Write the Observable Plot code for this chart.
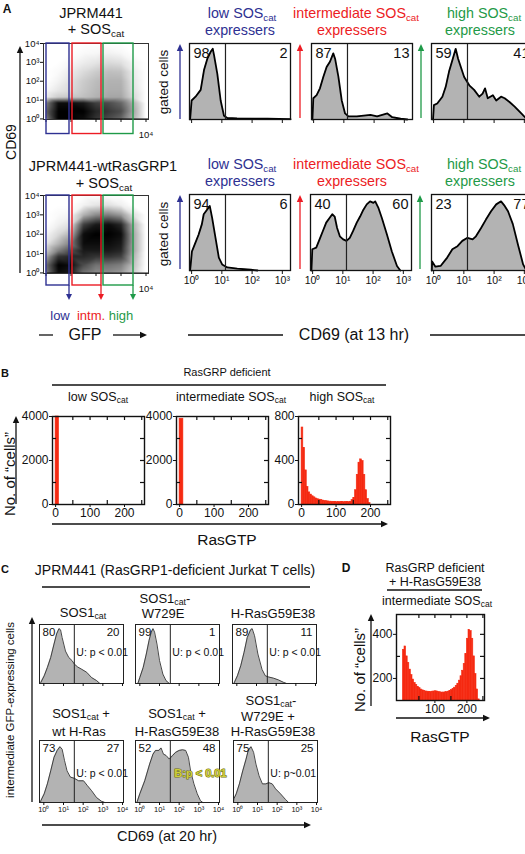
<!DOCTYPE html>
<html><head><meta charset="utf-8">
<script src="https://cdn.jsdelivr.net/npm/d3@7"></script>
<script src="https://cdn.jsdelivr.net/npm/@observablehq/plot@0.6"></script>
<style>
html,body{margin:0;padding:0;background:#fff;}
#root{position:relative;width:525px;height:854px;overflow:hidden;font-family:"Liberation Sans",Arial,Helvetica,sans-serif;color:#111;}
.t{position:absolute;white-space:nowrap;line-height:1;}
.t sub{font-size:0.68em;vertical-align:-0.3em;line-height:0;}
</style></head><body><div id="root"></div>
<script>
// ---------------- DATA ----------------
// Panel A: GFP gates (log10 GFP)
const gfpGates = [{gate:"low", x1:0.02, x2:0.94}, {gate:"intm.", x1:1.06, x2:2.22}, {gate:"high", x1:2.3, x2:3.5}];
// Estimated dot density grid (log10 GFP x log10 CD69)
const gridX = [0, 0.5, 1, 1.5, 2, 2.5, 3, 3.5, 4];
const gridY = [0, 0.4, 0.85, 1.15, 1.5, 2, 2.5, 3, 3.5, 4];
const densJPRM = [
  [0.5, 1, 1, 0.95, 0.8, 0.7, 0.6, 0.3, 0],
  [0.6, 1, 1, 1, 0.85, 0.78, 0.7, 0.35, 0],
  [0.5, 0.95, 0.95, 0.9, 0.75, 0.7, 0.6, 0.3, 0],
  [0.08, 0.2, 0.22, 0.25, 0.3, 0.35, 0.35, 0.15, 0],
  [0.03, 0.1, 0.15, 0.22, 0.28, 0.32, 0.32, 0.12, 0],
  [0, 0.05, 0.12, 0.2, 0.26, 0.3, 0.3, 0.1, 0],
  [0, 0.02, 0.08, 0.14, 0.2, 0.25, 0.24, 0.08, 0],
  [0, 0, 0.03, 0.07, 0.1, 0.14, 0.12, 0.04, 0],
  [0, 0, 0, 0.02, 0.03, 0.05, 0.03, 0, 0],
  [0, 0, 0, 0, 0, 0, 0, 0, 0]];
const densWt = [
  [0.5, 0.95, 0.9, 0.55, 0.45, 0.45, 0.4, 0.2, 0],
  [0.55, 1, 0.95, 0.7, 0.55, 0.55, 0.5, 0.25, 0],
  [0.35, 0.8, 0.85, 0.85, 0.8, 0.8, 0.75, 0.3, 0],
  [0.2, 0.5, 0.7, 0.9, 0.9, 0.9, 0.85, 0.35, 0],
  [0.1, 0.3, 0.5, 0.95, 0.95, 0.95, 0.9, 0.35, 0],
  [0.04, 0.15, 0.3, 0.95, 1, 1, 0.95, 0.35, 0],
  [0, 0.06, 0.12, 0.75, 0.9, 0.95, 0.85, 0.3, 0],
  [0, 0.02, 0.04, 0.3, 0.45, 0.5, 0.4, 0.12, 0],
  [0, 0, 0, 0.05, 0.1, 0.12, 0.06, 0, 0],
  [0, 0, 0, 0, 0, 0, 0, 0, 0]];
// Panel A histograms: [log10 CD69, relative count]
const aLow1 = [[-0.05,0],[0,0.25],[0.13,0.30],[0.30,0.39],[0.41,0.65],[0.52,0.80],[0.63,0.89],[0.70,0.93],[0.74,0.85],[0.85,0.6],[0.96,0.25],[1.07,0.05],[1.18,0.02],[1.5,0.015],[2.5,0.01],[3.27,0.005]];
const aInt1 = [[-0.04,0],[-0.01,0.28],[0.10,0.32],[0.21,0.41],[0.32,0.56],[0.43,0.69],[0.54,0.76],[0.65,0.87],[0.71,0.8],[0.82,0.56],[0.93,0.25],[1.04,0.08],[1.15,0.04],[1.43,0.04],[1.88,0.06],[2.10,0.04],[2.44,0.08],[2.60,0.03],[2.88,0.01],[3.10,0]];
const aHigh1 = [[-0.02,0],[0.01,0.19],[0.12,0.21],[0.29,0.30],[0.40,0.43],[0.51,0.63],[0.62,0.78],[0.73,0.93],[0.81,0.8],[0.90,0.69],[1.01,0.56],[1.18,0.45],[1.34,0.39],[1.51,0.30],[1.62,0.34],[1.70,0.41],[1.79,0.28],[1.96,0.32],[2.07,0.25],[2.23,0.30],[2.35,0.28],[2.51,0.23],[2.68,0.17],[2.90,0.08],[3.07,0.01],[3.2,0]];
const aLow2 = [[-0.05,0],[-0.03,0.08],[0.01,0.25],[0.12,0.36],[0.23,0.47],[0.34,0.61],[0.40,0.74],[0.51,0.80],[0.60,0.85],[0.68,0.69],[0.79,0.43],[0.90,0.17],[1.01,0.08],[1.18,0.04],[1.51,0.025],[1.96,0.01],[2.18,0]];
const aInt2 = [[-0.04,0],[-0.01,0.28],[0.12,0.30],[0.23,0.41],[0.34,0.52],[0.45,0.63],[0.56,0.69],[0.65,0.74],[0.73,0.71],[0.81,0.56],[0.90,0.45],[1.01,0.41],[1.12,0.39],[1.23,0.43],[1.34,0.52],[1.46,0.63],[1.57,0.71],[1.68,0.80],[1.79,0.87],[1.90,0.91],[2.01,0.89],[2.07,0.91],[2.18,0.82],[2.29,0.69],[2.46,0.47],[2.62,0.25],[2.79,0.06],[2.90,0]];
const aHigh2 = [[-0.06,0],[-0.05,0.12],[0.06,0.05],[0.23,0.06],[0.45,0.17],[0.62,0.28],[0.79,0.32],[0.95,0.39],[1.12,0.43],[1.29,0.41],[1.40,0.45],[1.57,0.56],[1.73,0.67],[1.90,0.78],[2.07,0.87],[2.23,0.91],[2.35,0.85],[2.46,0.78],[2.62,0.61],[2.79,0.34],[2.96,0.08],[3.07,0]];
const aPct = [[98,2],[87,13],[59,41],[94,6],[40,60],[23,77]];
const aGate = 1.12;
const aTicks = [0,1,2,3];
// Panel B: RasGTP histograms
const bLowBars = [{x1:0, x2:10, n:4000}];
const bIntBars = [{x1:0, x2:11, n:3900}];
const bHighCounts = [700,515,310,160,110,90,75,65,55,48,44,40,36,33,30,28,26,25,24,23,22,22,21,21,21,22,22,23,25,40,60,130,270,380,410,395,270,130,50,12];
const bXTicks = [0,100,200];
const bYTicks4000 = [0,2000,4000];
const bYTicks800 = [0,400,800];
// Panel C
const c1 = [[-0.17,0],[-0.15,0.02],[0.02,0.13],[0.18,0.27],[0.35,0.44],[0.52,0.67],[0.65,0.84],[0.77,0.93],[0.85,0.91],[0.93,0.78],[1.1,0.55],[1.27,0.44],[1.43,0.39],[1.55,0.33],[1.72,0.28],[1.93,0.24],[2.18,0.19],[2.43,0.10],[2.68,0.05],[2.85,0]];
const c2 = [[-0.1,0],[0,0.1],[0.17,0.27],[0.33,0.5],[0.47,0.73],[0.58,0.87],[0.67,0.93],[0.75,0.87],[0.87,0.67],[1.0,0.39],[1.17,0.16],[1.33,0.05],[1.5,0]];
const c3 = [[-0.15,0],[0.03,0.13],[0.2,0.3],[0.37,0.53],[0.53,0.78],[0.7,0.91],[0.78,0.93],[0.9,0.81],[1.07,0.5],[1.28,0.24],[1.45,0.13],[1.62,0.11],[1.87,0.09],[2.12,0.06],[2.37,0.02],[2.53,0]];
const c4 = [[-0.17,0],[-0.15,0.03],[0.02,0.14],[0.18,0.3],[0.35,0.51],[0.52,0.73],[0.68,0.84],[0.82,0.9],[0.93,0.86],[1.05,0.68],[1.18,0.51],[1.35,0.41],[1.55,0.39],[1.77,0.35],[2.02,0.35],[2.22,0.27],[2.43,0.19],[2.68,0.08],[2.93,0.02],[3.1,0]];
const c5 = [[-0.15,0],[0.0,0.14],[0.25,0.35],[0.5,0.62],[0.67,0.78],[0.8,0.84],[0.97,0.84],[1.08,0.88],[1.2,0.78],[1.33,0.76],[1.5,0.7],[1.67,0.76],[1.83,0.81],[2.0,0.84],[2.17,0.85],[2.33,0.84],[2.47,0.73],[2.58,0.51],[2.75,0.3],[2.92,0.14],[3.08,0.03],[3.2,0]];
const c6 = [[-0.22,0],[-0.2,0.06],[-0.08,0.14],[0.08,0.3],[0.25,0.51],[0.42,0.7],[0.53,0.84],[0.67,0.9],[0.8,0.81],[0.92,0.62],[1.08,0.43],[1.25,0.3],[1.42,0.3],[1.58,0.32],[1.75,0.3],[1.92,0.22],[2.17,0.14],[2.42,0.05],[2.58,0]];
const cPct = [[80,20],[99,1],[89,11],[73,27],[52,48],[75,25]];
const cStats = ["U: p < 0.01","U: p < 0.01","U: p < 0.01","U: p < 0.01","B:p < 0.01","U: p~0.01"];
const cGate = 1.55;
const cTicks = [0,1,2,3,4];
// Panel D
const dCounts = [330,345,300,270,240,215,195,180,170,162,156,150,146,143,141,140,139,139,140,141,142,141,139,137,136,136,137,138,140,143,147,152,158,166,176,190,210,235,265,310,380,420,415,380,300,220,150,105];
const dXTicks = [100,200];
const dYTicks = [200,400];

// ---------------- HELPERS ----------------
const FONT = '"Liberation Sans", Arial, Helvetica, sans-serif';
const BLUE="#2e3192", RED="#ec1c24", GREEN="#1f9a48", BARRED="#f52a12", HGRAY="#b3b3b3";
const gateColors = [BLUE, RED, GREEN];
const root = document.getElementById("root");
const SUP = "⁰¹²³⁴";
const sup = d => "10" + SUP[d];

function T(html, cx, cy, o = {}) {
  const el = document.createElement("div");
  el.className = "t";
  el.innerHTML = html;
  el.style.left = cx + "px";
  el.style.top = cy + "px";
  el.style.fontSize = (o.size || 13) + "px";
  el.style.color = o.color || "#111";
  if (o.weight) el.style.fontWeight = o.weight;
  el.style.transform = "translate(-50%,-50%)" + (o.rot ? ` rotate(${o.rot}deg)` : "");
  root.appendChild(el);
}
function P(L, Tp, W, H, m, opts) {
  const [mt, mr, mb, ml] = m;
  const svg = Plot.plot({
    width: W + ml + mr, height: H + mt + mb,
    marginTop: mt, marginRight: mr, marginBottom: mb, marginLeft: ml,
    style: {background: "none", overflow: "visible", fontFamily: FONT, color: "#111"},
    ...opts
  });
  svg.style.position = "absolute";
  svg.style.left = (L - ml) + "px";
  svg.style.top = (Tp - mt) + "px";
  svg.style.maxWidth = "none";
  root.appendChild(svg);
  return svg;
}

// ---------------- PANEL A ----------------
function scatter(dens, L, Tp, H, gateBottom) {
  const pts = gridY.flatMap((y, j) => gridX.map((x, i) => ({x, y, d: dens[j][i]})));
  P(L, Tp, 105, H, [4, 8, 22, 26], {
    x: {domain: [-0.1, 4.1], axis: null},
    y: {domain: [-0.03, 4], axis: null},
    color: {type: "linear", domain: [0, 1], range: ["#ffffff", "#000000"], clamp: true},
    marks: [
      Plot.raster(pts, {x: "x", y: "y", fill: "d", interpolate: "barycentric"}),
      Plot.frame({stroke: "#333", strokeWidth: 1}),
      Plot.axisY({ticks: [0,1,2,3,4], tickFormat: sup, tickSize: 3, tickPadding: 1, fontSize: 9.5, label: null}),
      Plot.axisX({ticks: [0,1,2,3,4], tickFormat: d => d === 4 ? sup(4) : "", tickSize: 3, tickPadding: 9, fontSize: 9.5, label: null}),
      ...gfpGates.map((g, i) => Plot.rect([g], {x1: "x1", x2: "x2", y1: () => gateBottom, y2: () => 4, stroke: gateColors[i], strokeWidth: 1.4, fill: "none"}))
    ]
  });
}
scatter(densJPRM, 43, 43, 76, -0.8);
scatter(densWt, 43, 195, 78, -0.65);

function histA(data, L, Tp, pct, labels) {
  P(L, Tp, 101, 76, [2, 4, 18, 4], {
    x: {domain: [-0.07, 3.27], axis: null},
    y: {domain: [0, 1], axis: null},
    marks: [
      Plot.areaY(data, {x: d => d[0], y: d => d[1], fill: HGRAY}),
      Plot.lineY(data, {x: d => d[0], y: d => d[1], stroke: "#000", strokeWidth: 1.8}),
      Plot.ruleX([aGate], {stroke: "#222", strokeWidth: 1.2}),
      Plot.frame({stroke: "#111", strokeWidth: 1.3}),
      Plot.axisX({ticks: aTicks, tickSize: 4, tickPadding: 2, tickFormat: labels ? sup : () => "", fontSize: 10.5, label: null}),
      Plot.text([pct[0]], {text: d => d, frameAnchor: "top-left", textAnchor: "start", lineAnchor: "top", dx: 4, dy: 4, fontSize: 14.5}),
      Plot.text([pct[1]], {text: d => d, frameAnchor: "top-right", textAnchor: "end", lineAnchor: "top", dx: -3, dy: 4, fontSize: 14.5})
    ]
  });
}
histA(aLow1, 189, 43, aPct[0], false);
histA(aInt1, 311, 43, aPct[1], false);
histA(aHigh1, 431, 43, aPct[2], false);
histA(aLow2, 189, 194, aPct[3], true);
histA(aInt2, 310, 194, aPct[4], true);
histA(aHigh2, 431, 194, aPct[5], true);

T("A", 7, 9, {size: 12, weight: "bold"});
T("JPRM441", 91, 13, {size: 14.5});
T("+ SOS<sub>cat</sub>", 96, 29, {size: 14.5});
T("JPRM441-wtRasGRP1", 103, 166, {size: 14.5});
T("+ SOS<sub>cat</sub>", 104, 183, {size: 14.5});
T("CD69", 11, 142, {size: 14, rot: -90});
T("gated cells", 164, 82, {size: 13.5, rot: -90});
T("gated cells", 164, 234, {size: 13.5, rot: -90});
for (const [y1, y2] of [[13, 30], [164, 181]]) {
  T("low SOS<sub>cat</sub>", 242, y1, {size: 14.3, color: BLUE});
  T("expressers", 240, y2, {size: 14.3, color: BLUE});
  T("intermediate SOS<sub>cat</sub>", 356, y1, {size: 14.3, color: RED});
  T("expressers", 352, y2, {size: 14.3, color: RED});
  T("high SOS<sub>cat</sub>", 484, y1, {size: 14.3, color: GREEN});
  T("expressers", 480, y2, {size: 14.3, color: GREEN});
}
T("low", 60, 315, {size: 13, color: BLUE});
T("intm.", 91, 315, {size: 13, color: RED});
T("high", 121, 315, {size: 13, color: GREEN});
T("GFP", 85, 335, {size: 16});
T("CD69 (at 13 hr)", 354, 335, {size: 16});

// ---------------- PANEL B ----------------
const bHighBars = bHighCounts.map((n, i) => ({x1: i * 5, x2: i * 5 + 5, n}));
function histB(bars, L, yTicks) {
  const W = 92, H = 88, yMax = yTicks[2];
  P(L, 416, W, H, [4, 4, 18, 30], {
    x: {domain: [-9, 258], axis: null},
    y: {domain: [0, yMax], axis: null},
    marks: [
      Plot.rectY(bars, {x1: "x1", x2: "x2", y: "n", fill: BARRED, stroke: BARRED, strokeWidth: 0.6}),
      Plot.ruleX([50, 100, 150, 200, 250], {insetBottom: H - 4, stroke: "#111", strokeWidth: 1.2}),
      Plot.ruleX([50, 150, 250], {insetTop: H - 4, stroke: "#111", strokeWidth: 1.2}),
      Plot.ruleY([yMax / 4, yMax / 2, 3 * yMax / 4], {insetLeft: W - 4, stroke: "#111", strokeWidth: 1.2}),
      Plot.ruleY([yMax / 4, 3 * yMax / 4], {insetRight: W - 4, stroke: "#111", strokeWidth: 1.2}),
      Plot.frame({stroke: "#111", strokeWidth: 1.4}),
      Plot.axisX({ticks: bXTicks, tickSize: 3, tickPadding: 1, fontSize: 12, label: null, tickFormat: d => String(d)}),
      Plot.axisY({ticks: yTicks, tickSize: 3, tickPadding: 1, fontSize: 12, label: null, tickFormat: d => String(d)})
    ]
  });
}
histB(bLowBars, 52, bYTicks4000);
histB(bIntBars, 176, bYTicks4000);
histB(bHighBars, 298, bYTicks800);
T("B", 5, 373, {size: 11, weight: "bold"});
T("RasGRP deficient", 227, 372, {size: 11});
T("low SOS<sub>cat</sub>", 98, 397, {size: 12.5});
T("intermediate SOS<sub>cat</sub>", 231, 397, {size: 12.5});
T("high SOS<sub>cat</sub>", 342, 397, {size: 12.5});
T("No. of “cells”", 9, 474, {size: 15, rot: -90});
T("RasGTP", 227, 540, {size: 15.5});

// ---------------- PANEL C ----------------
function histC(data, L, Tp, H, pct, stat, labels, statDy, special) {
  const statOpts = special
    ? {fill: "#cfcf3c", stroke: "#6d6d14", strokeWidth: 1.1, paintOrder: "stroke", fontWeight: "bold", fontSize: 11}
    : {fill: "#111", fontSize: 10.5};
  P(L, Tp, 84, H, [2, 10, 16, 4], {
    x: {domain: [-0.22, 4.05], axis: null},
    y: {domain: [0, 1], axis: null},
    marks: [
      Plot.areaY(data, {x: d => d[0], y: d => d[1], fill: HGRAY}),
      Plot.lineY(data, {x: d => d[0], y: d => d[1], stroke: "#333", strokeWidth: 0.9}),
      Plot.ruleX([cGate], {stroke: "#222", strokeWidth: 1}),
      Plot.frame({stroke: "#222", strokeWidth: 1}),
      Plot.axisX({ticks: cTicks, tickSize: 3, tickPadding: 1, tickFormat: labels ? sup : () => "", fontSize: 7.5, label: null}),
      Plot.text([pct[0]], {text: d => d, frameAnchor: "top-left", textAnchor: "start", lineAnchor: "top", dx: 3, dy: 3, fontSize: 11.5}),
      Plot.text([pct[1]], {text: d => d, frameAnchor: "top-right", textAnchor: "end", lineAnchor: "top", dx: -4, dy: 3, fontSize: 11.5}),
      Plot.text([stat], {text: d => d, x: () => cGate, frameAnchor: "top", textAnchor: "start", dx: special ? 4 : 2, dy: statDy, ...statOpts})
    ]
  });
}
histC(c1, 39, 624, 59, cPct[0], cStats[0], false, 24, false);
histC(c2, 135, 624, 59, cPct[1], cStats[1], false, 24, false);
histC(c3, 232, 624, 59, cPct[2], cStats[2], false, 24, false);
histC(c4, 39, 740, 62, cPct[3], cStats[3], true, 29, false);
histC(c5, 135, 740, 62, cPct[4], cStats[4], true, 29, true);
histC(c6, 233, 740, 62, cPct[5], cStats[5], true, 29, false);
T("C", 5, 569, {size: 11, weight: "bold"});
T("JPRM441 (RasGRP1-deficient Jurkat T cells)", 175, 570, {size: 14});
T("SOS1<sub>cat</sub>", 83, 612, {size: 13});
T("SOS1<sub>cat</sub>-", 165, 598, {size: 13});
T("W729E", 163, 613, {size: 13});
T("H-RasG59E38", 273, 613, {size: 13});
T("SOS1<sub>cat</sub> +", 81, 713, {size: 13});
T("wt H-Ras", 79, 731, {size: 13});
T("SOS1<sub>cat</sub> +", 177, 713, {size: 13});
T("H-RasG59E38", 177, 731, {size: 13});
T("SOS1<sub>cat</sub>-", 271, 700, {size: 13});
T("W729E +", 268, 716, {size: 13});
T("H-RasG59E38", 273, 731, {size: 13});
T("intermediate GFP-expressing cells", 11, 710, {size: 11.5, rot: -90});
T("CD69 (at 20 hr)", 167, 836, {size: 14.5});

// ---------------- PANEL D ----------------
const dBars = dCounts.map((n, i) => ({x1: i * 5, x2: i * 5 + 5, n}));
{
  const W = 88, H = 86;
  P(396, 614, W, H, [4, 4, 18, 30], {
    x: {domain: [-20, 255], axis: null},
    y: {domain: [100, 490], axis: null},
    marks: [
      Plot.rectY(dBars, {x1: "x1", x2: "x2", y: "n", fill: BARRED, stroke: BARRED, strokeWidth: 0.6, clip: true}),
      Plot.ruleX([50, 100, 150, 200, 250], {insetBottom: H - 4, stroke: "#111", strokeWidth: 1.2}),
      Plot.ruleX([50, 150, 250], {insetTop: H - 4, stroke: "#111", strokeWidth: 1.2}),
      Plot.ruleY([200, 300, 400], {insetLeft: W - 4, stroke: "#111", strokeWidth: 1.2}),
      Plot.ruleY([300], {insetRight: W - 4, stroke: "#111", strokeWidth: 1.2}),
      Plot.frame({stroke: "#111", strokeWidth: 1.4}),
      Plot.axisX({ticks: dXTicks, tickSize: 3, tickPadding: 1, fontSize: 12, label: null, tickFormat: d => String(d)}),
      Plot.axisY({ticks: dYTicks, tickSize: 3, tickPadding: 1, fontSize: 12, label: null, tickFormat: d => String(d)})
    ]
  });
}
T("D", 346, 568, {size: 12, weight: "bold"});
T("RasGRP deficient", 435, 568, {size: 12.5});
T("+ H-RasG59E38", 435, 582, {size: 12.5});
T("intermediate SOS<sub>cat</sub>", 437, 601, {size: 12.5});
T("No. of “cells”", 359, 670, {size: 15, rot: -90});
T("RasGTP", 440, 737, {size: 15.5});

// ---------------- DECORATIVE LINES / ARROWS ----------------
const ov = d3.select(root).append("svg").attr("width", 525).attr("height", 854)
  .style("position", "absolute").style("left", "0px").style("top", "0px").style("pointer-events", "none");
function line(x1, y1, x2, y2, c = "#111", w = 1.3) {
  ov.append("line").attr("x1", x1).attr("y1", y1).attr("x2", x2).attr("y2", y2).attr("stroke", c).attr("stroke-width", w);
}
function arrow(x1, y1, x2, y2, c = "#111", w = 1.3, hl = 7, hw = 3.2) {
  const dx = x2 - x1, dy = y2 - y1, len = Math.hypot(dx, dy), ux = dx / len, uy = dy / len;
  const bx = x2 - ux * hl, by = y2 - uy * hl;
  line(x1, y1, bx, by, c, w);
  ov.append("path").attr("d", `M${x2},${y2}L${bx - uy * hw},${by + ux * hw}L${bx + uy * hw},${by - ux * hw}Z`).attr("fill", c);
}
// Panel A
arrow(20, 273, 20, 46);
arrow(180, 119, 180, 44, BLUE); arrow(300, 118, 300, 44, RED); arrow(421, 118, 421, 44, GREEN);
arrow(180, 269, 180, 195, BLUE); arrow(300, 269, 300, 195, RED); arrow(420, 269, 420, 195, GREEN);
arrow(69, 285, 69, 300, BLUE, 1.3, 6, 3); arrow(101, 285, 101, 300, RED, 1.3, 6, 3); arrow(133, 285, 133, 300, GREEN, 1.3, 6, 3);
line(39, 335, 53, 335);
arrow(113, 335, 147, 335);
line(188, 335, 283, 335);
arrow(430, 335, 545, 335);
// Panel B
line(52, 385, 386, 385);
arrow(16, 504, 16, 416);
arrow(52, 524, 388, 524);
// Panel C
line(42, 587, 310, 587);
arrow(32, 802, 32, 617);
arrow(42, 825, 311, 825);
// Panel D
line(387, 590, 482, 590);
arrow(371, 706, 371, 614);
arrow(396, 718, 490, 718);
</script></body></html>
